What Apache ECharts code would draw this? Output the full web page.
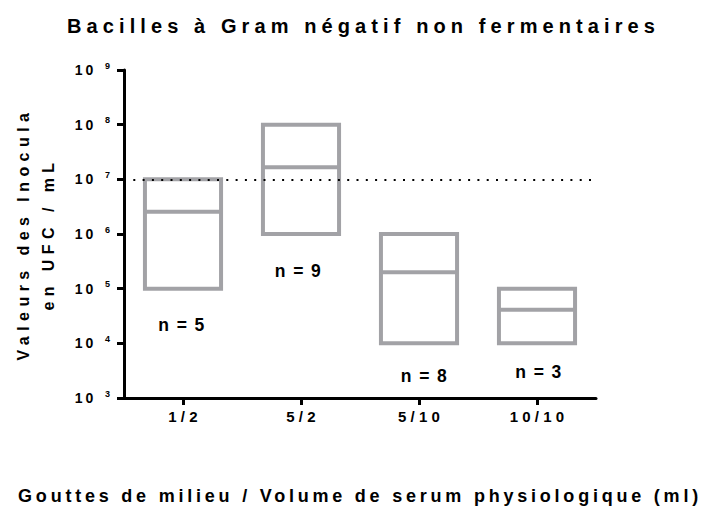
<!DOCTYPE html>
<html>
<head>
<meta charset="utf-8">
<script src="https://cdn.jsdelivr.net/npm/echarts@6/dist/echarts.min.js"></script>
<style>
html, body { margin: 0; padding: 0; background: #fff; }
#chart { width: 707px; height: 511px; }
/* letter spacing per text role (SVG renderer), selected by font size */
#chart text[style*=" 20px"], #chart text[style*=":20px"] { letter-spacing: 0.255em; }
#chart text[style*=" 18px"], #chart text[style*=":18px"] { letter-spacing: 0.21em; }
#chart text[style*=" 16px"], #chart text[style*=":16px"] { letter-spacing: 0.34em; }
#chart text[style*=" 15px"], #chart text[style*=":15px"] { letter-spacing: 0.28em; }
#chart text[style*=" 14px"], #chart text[style*=":14px"] { letter-spacing: 0.2em; }
#chart text[style*="17.5px"] { letter-spacing: 0.08em; }
</style>
</head>
<body>
<div id="chart"></div>
<script>
// ---- data ----
const categories = ['1/2', '5/2', '5/10', '10/10'];
const lowValues = [1e5, 1e6, 1e4, 1e4];
const medianValues = [2.55e6, 1.67e7, 2.0e5, 4.1e4];
const highValues = [1e7, 1e8, 1e6, 1e5];
const nCounts = [5, 9, 8, 3];
const thresholdValue = 1e7;
const yTickExponents = [3, 4, 5, 6, 7, 8, 9];

const titleText = 'Bacilles à Gram négatif non fermentaires';
const xAxisTitle = 'Gouttes de milieu / Volume de serum physiologique (ml)';
const yAxisTitle = 'Valeurs des Inocula\nen UFC / mL';

// ---- style ----
const FONT = 'Liberation Sans';
const boxColor = '#a2a2a6';
const nLabelOffsets = [[-1, 36], [-2.5, 37], [5.5, 33], [2, 29]];

const boxData = categories.map((c, i) => [i, lowValues[i], medianValues[i], highValues[i]]);

function renderBox(params, api) {
  const i = api.value(0);
  const lo = api.coord([i, api.value(1)]);
  const md = api.coord([i, api.value(2)]);
  const hi = api.coord([i, api.value(3)]);
  const band = api.size([1, 0])[0];
  const w = band * 0.645;
  const x = lo[0] - w / 2;
  const off = nLabelOffsets[params.dataIndex];
  return {
    type: 'group',
    children: [
      { type: 'rect', shape: { x: x, y: hi[1], width: w, height: lo[1] - hi[1] },
        style: { fill: 'none', stroke: boxColor, lineWidth: 4 } },
      { type: 'line', shape: { x1: x, y1: md[1], x2: x + w, y2: md[1] },
        style: { stroke: boxColor, lineWidth: 4 } },
      { type: 'text', x: lo[0] + off[0], y: lo[1] + off[1],
        style: { text: 'n = ' + nCounts[params.dataIndex], fill: '#000',
          font: 'bold 17.5px "' + FONT + '"', align: 'center', verticalAlign: 'middle' } }
    ]
  };
}

const chart = echarts.init(document.getElementById('chart'), null, { renderer: 'svg' });
chart.setOption({
  animation: false,
  backgroundColor: '#fff',
  textStyle: { fontFamily: FONT },
  title: {
    text: titleText,
    left: 67, top: 16, padding: 0,
    textStyle: { fontSize: 20, fontWeight: 'bold', color: '#000', fontFamily: FONT }
  },
  grid: { left: 124, right: 111, top: 70, bottom: 113, containLabel: false },
  xAxis: {
    type: 'category',
    data: categories,
    boundaryGap: true,
    name: xAxisTitle,
    nameLocation: 'middle',
    nameGap: 89,
    nameTextStyle: { fontSize: 18, fontWeight: 'bold', color: '#000', fontFamily: FONT },
    axisLine: { show: true, lineStyle: { color: '#000', width: 3 } },
    axisTick: { show: true, alignWithLabel: true, length: 7, lineStyle: { color: '#000', width: 3 } },
    axisLabel: { fontSize: 15, fontWeight: 'bold', color: '#000', margin: 11, padding: [0, 0, 0, 4], fontFamily: FONT },
    splitLine: { show: false }
  },
  yAxis: {
    type: 'log',
    logBase: 10,
    min: Math.pow(10, yTickExponents[0]),
    max: Math.pow(10, yTickExponents[yTickExponents.length - 1]),
    name: yAxisTitle,
    nameLocation: 'middle',
    nameRotate: 90,
    nameGap: 63,
    nameTextStyle: { fontSize: 16, fontWeight: 'bold', color: '#000', lineHeight: 25, fontFamily: FONT },
    axisLine: { show: true, lineStyle: { color: '#000', width: 3 } },
    axisTick: { show: true, length: 7, lineStyle: { color: '#000', width: 3 } },
    splitLine: { show: false },
    axisLabel: {
      margin: 14,
      formatter: function (v) {
        const e = Math.round(Math.log10(v));
        return yTickExponents.indexOf(e) >= 0 ? '{b|10}{s|' + e + '}' : '';
      },
      rich: {
        b: { fontSize: 14, fontWeight: 'bold', color: '#000', fontFamily: FONT },
        s: { fontSize: 9, fontWeight: 'bold', color: '#000', fontFamily: FONT, padding: [0, 0, 9, 9] }
      }
    }
  },
  series: [
    {
      type: 'custom',
      renderItem: renderBox,
      data: boxData,
      encode: { x: 0, y: [1, 2, 3] },
      clip: false,
      z: 3
    },
    {
      type: 'line',
      data: [],
      markLine: {
        silent: true,
        symbol: 'none',
        label: { show: false },
        lineStyle: { color: '#000', width: 2, type: [2, 7.3] },
        data: [{ yAxis: thresholdValue }]
      },
      z: 2
    }
  ]
});
</script>
</body>
</html>
